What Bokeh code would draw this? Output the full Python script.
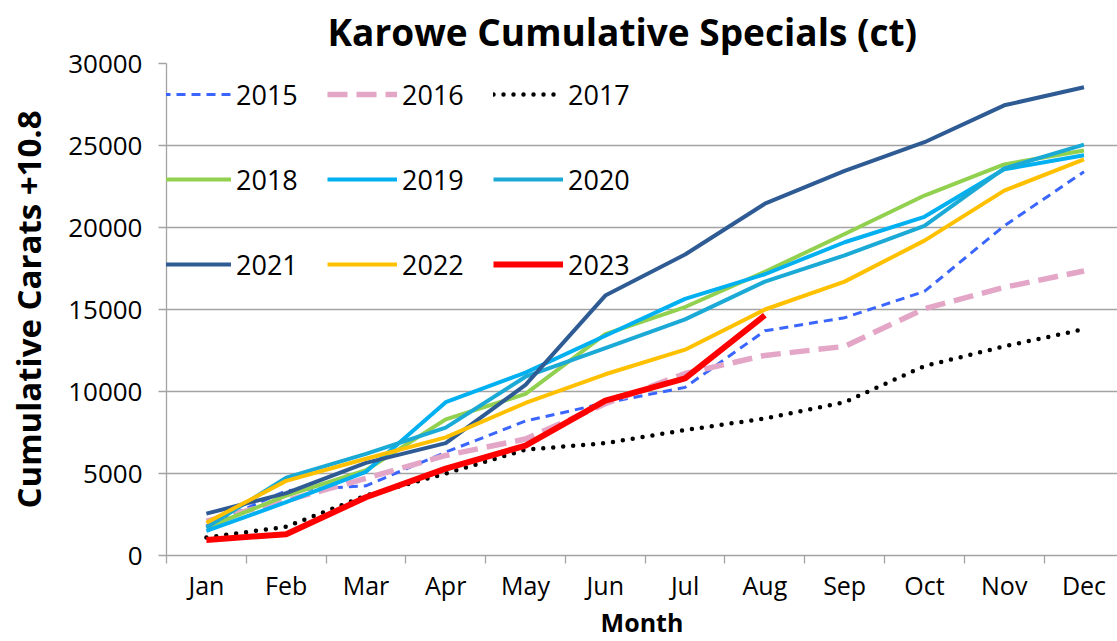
from bokeh.plotting import figure
from bokeh.models import (Range1d, FixedTicker, Legend, LegendItem)
from bokeh.embed import file_html
from bokeh.resources import INLINE

# ---------------- data ----------------
months = ["Jan", "Feb", "Mar", "Apr", "May", "Jun", "Jul", "Aug", "Sep", "Oct", "Nov", "Dec"]
y_ticks = [0, 5000, 10000, 15000, 20000, 25000, 30000]

s2015 = [1800, 3950, 4250, 6300, 8200, 9300, 10250, 13700, 14500, 16100, 20100, 23400]
s2016 = [2100, 3350, 4700, 6100, 7100, 9250, 11100, 12200, 12750, 15050, 16350, 17350]
s2017 = [1100, 1750, 3650, 5000, 6450, 6850, 7650, 8350, 9350, 11550, 12750, 13800]
s2018 = [1700, 3650, 5200, 8300, 9850, 13500, 15150, 17300, 19600, 21950, 23850, 24700]
s2019 = [1500, 3250, 5100, 9350, 11150, 13400, 15650, 17150, 19100, 20650, 23550, 24400]
s2020 = [1700, 4750, 6200, 7800, 10900, 12650, 14400, 16700, 18300, 20100, 23600, 25050]
s2021 = [2550, 3800, 5650, 6850, 10400, 15850, 18350, 21450, 23450, 25200, 27450, 28550]
s2022 = [2000, 4550, 5900, 7200, 9300, 11050, 12550, 15000, 16700, 19200, 22250, 24150]
s2023 = [950, 1300, 3550, 5300, 6700, 9450, 10800, 14650]

title_text = "Karowe Cumulative Specials (ct)"
y_title = "Cumulative Carats +10.8"
x_title = "Month"

FONT = "Open Sans"
GRID = "#A3A3A3"

series = [
    ("2015", s2015, dict(line_color="#3A66FF", line_width=3, line_dash="9 6")),
    ("2016", s2016, dict(line_color="#E3A6C7", line_width=5.5, line_dash="20 9")),
    ("2017", s2017, dict(line_color="#000000", line_width=4.5, line_dash="0 10", line_cap="round")),
    ("2018", s2018, dict(line_color="#92D050", line_width=4)),
    ("2019", s2019, dict(line_color="#00B0F0", line_width=4)),
    ("2020", s2020, dict(line_color="#1BA9D6", line_width=4)),
    ("2021", s2021, dict(line_color="#2E5B93", line_width=4)),
    ("2022", s2022, dict(line_color="#FFC000", line_width=4)),
    ("2023", s2023, dict(line_color="#FF0000", line_width=6)),
]

p = figure(width=1117, height=641, output_backend="svg", toolbar_location=None,
           x_range=Range1d(0, 11.92), y_range=Range1d(0, 30000),
           min_border_left=166, min_border_right=0, min_border_top=63, min_border_bottom=86)
p.outline_line_color = None
p.background_fill_color = "white"
p.border_fill_color = "white"

p.title.text = title_text
p.title.text_font = FONT
p.title.text_font_size = "37px"
p.title.text_font_style = "bold"
p.title.text_color = "#000000"
p.title.align = "left"
p.title.offset = 161
p.title.vertical_align = "top"
p.title.standoff = 10

items = []
for name, vals, style in series:
    xs = [i + 0.5 for i in range(len(vals))]
    kw = dict(line_join="round")
    kw.update(style)
    r = p.line(xs, vals, **kw)
    items.append(LegendItem(label=name, renderers=[r]))

# axes
p.xgrid.visible = False
p.ygrid.ticker = FixedTicker(ticks=y_ticks)
p.ygrid.grid_line_color = GRID
p.ygrid.grid_line_width = 1.3

xa = p.xaxis[0]
xa.ticker = FixedTicker(ticks=[i + 0.5 for i in range(12)], minor_ticks=list(range(13)))
xa.major_label_overrides = {i + 0.5: m for i, m in enumerate(months)}
xa.major_tick_out = 0
xa.major_tick_in = 0
xa.minor_tick_out = 8
xa.minor_tick_in = 0
xa.minor_tick_line_color = GRID
xa.minor_tick_line_width = 1.3
xa.axis_line_color = GRID
xa.axis_line_width = 1.3
xa.major_label_text_font = FONT
xa.major_label_text_font_size = "25px"
xa.major_label_text_color = "#000000"
xa.major_label_standoff = 4
xa.axis_label = x_title
xa.axis_label_text_font = FONT
xa.axis_label_text_font_size = "25px"
xa.axis_label_text_font_style = "bold"
xa.axis_label_text_color = "#000000"
xa.axis_label_standoff = 0

ya = p.yaxis[0]
ya.ticker = FixedTicker(ticks=y_ticks)
ya.major_tick_out = 8
ya.major_tick_in = 0
ya.minor_tick_out = 0
ya.minor_tick_in = 0
ya.major_tick_line_color = GRID
ya.major_tick_line_width = 1.3
ya.axis_line_color = GRID
ya.axis_line_width = 1.3
ya.major_label_text_font = FONT
ya.major_label_text_font_size = "26px"
ya.major_label_text_color = "#000000"
ya.major_label_standoff = 16
ya.axis_label = y_title
ya.axis_label_text_font = FONT
ya.axis_label_text_font_size = "33px"
ya.axis_label_text_font_style = "bold"
ya.axis_label_text_color = "#000000"
ya.axis_label_standoff = 14

legend = Legend(items=items, ncols=3, orientation="horizontal",
                location=(-5, 260), glyph_width=70, glyph_height=62,
                label_width=68, label_height=62, label_standoff=5, spacing=23,
                padding=0, margin=0, border_line_color=None,
                background_fill_alpha=0,
                label_text_font=FONT, label_text_font_size="27px",
                label_text_color="#000000")
p.add_layout(legend)

open("out.html", "w").write(file_html(p, INLINE))
